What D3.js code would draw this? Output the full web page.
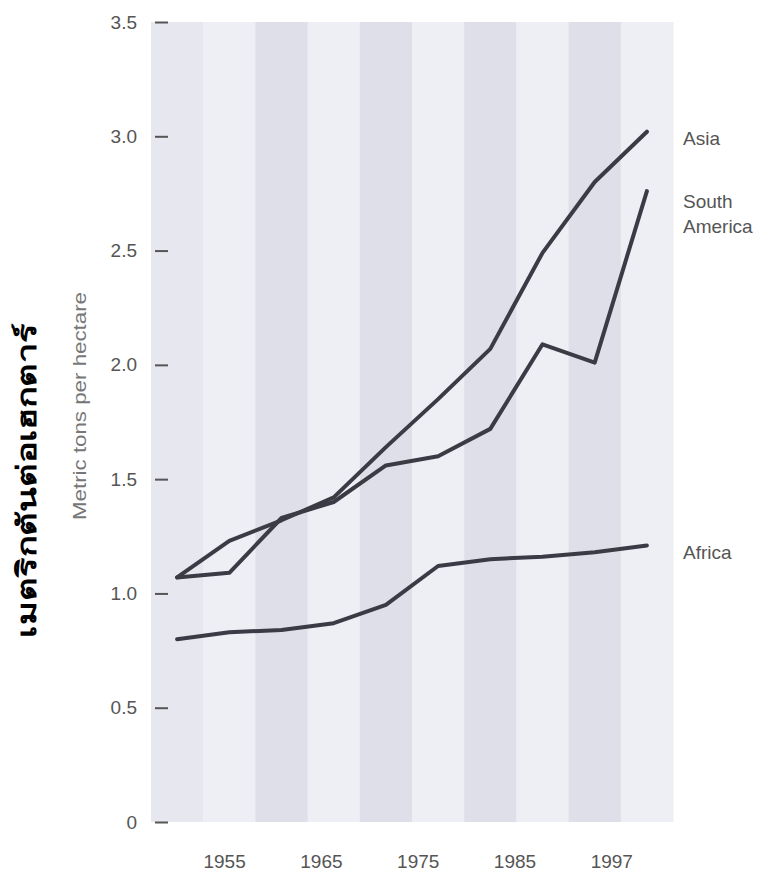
<!DOCTYPE html>
<html>
<head>
<meta charset="utf-8">
<script src="https://d3js.org/d3.v7.min.js"></script>
<style>
  body { margin: 0; background: #fff; }
  text { font-family: "Liberation Sans", Arial, sans-serif; }
</style>
</head>
<body>
<div class="chart"></div>
<script>
var width = 772;
var height = 872;

// datos
var years = [1950, 1955, 1960, 1965, 1970, 1975, 1980, 1985, 1990, 1997];
var asia = [1.07, 1.23, 1.32, 1.42, 1.64, 1.85, 2.07, 2.49, 2.80, 3.02];
var southAmerica = [1.07, 1.09, 1.33, 1.40, 1.56, 1.60, 1.72, 2.09, 2.01, 2.76];
var africa = [0.80, 0.83, 0.84, 0.87, 0.95, 1.12, 1.15, 1.16, 1.18, 1.21];
var seriesNames = ["Asia", "South America", "Africa"];
var yTicks = [0, 0.5, 1.0, 1.5, 2.0, 2.5, 3.0, 3.5];
var xTickYears = [1955, 1965, 1975, 1985, 1997];

var svg = d3.select(".chart")
  .append("svg")
  .attr("width", width)
  .attr("height", height)
  .style("background", "#FFFFFF");

var x = d3.scaleBand().domain(years).range([151, 673]).padding(0);
var y = d3.scaleLinear().domain([0, 3.5]).range([822, 22]);
// las etiquetas del eje van en una rejilla un poco más estrecha
var xLab = x.copy().range([152, 636]);

// franjas verticales
svg.selectAll("rect.band")
  .data(years)
  .enter()
  .append("rect")
  .attr("class", "band")
  .attr("x", function(d) { return x(d); })
  .attr("y", y(3.5))
  .attr("width", x.bandwidth() + 0.5)
  .attr("height", y(0) - y(3.5))
  .attr("fill", function(d, i) {
    if (i == 0) return "#e7e7ef";
    return i % 2 == 0 ? "#dfdfe9" : "#eeeef5";
  });

// eje y
var yAxis = svg.append("g")
  .attr("transform", "translate(168,0)")
  .call(d3.axisLeft(y).tickValues(yTicks)
    .tickFormat(function(d) { return d == 0 ? "0" : d3.format(".1f")(d); })
    .tickSizeInner(13).tickSizeOuter(0).tickPadding(18));
yAxis.select(".domain").remove();
yAxis.selectAll("line").attr("stroke", "#555").attr("stroke-width", 2);
yAxis.selectAll("text")
  .attr("fill", "#555")
  .style("font-size", "19px")
  .style("font-family", "'Liberation Sans', Arial, sans-serif");

// eje x
var xAxis = svg.append("g")
  .attr("transform", "translate(0,849)")
  .call(d3.axisBottom(xLab).tickValues(xTickYears).tickSize(0).tickPadding(6));
xAxis.select(".domain").remove();
xAxis.selectAll("text")
  .attr("fill", "#555")
  .style("font-size", "19px")
  .style("font-family", "'Liberation Sans', Arial, sans-serif");

// líneas
var line = d3.line()
  .x(function(d, i) { return x(years[i]) + x.bandwidth() / 2; })
  .y(function(d) { return y(d); });

var allSeries = [asia, southAmerica, africa];
svg.selectAll("path.serie")
  .data(allSeries)
  .enter()
  .append("path")
  .attr("class", "serie")
  .attr("d", line)
  .attr("fill", "none")
  .attr("stroke", "#3b3b46")
  .attr("stroke-width", 4)
  .attr("stroke-linejoin", "round")
  .attr("stroke-linecap", "round");

// nombres de las series
var labelX = 683;
svg.append("text").attr("x", labelX).attr("y", y(asia[9]) + 13)
  .text(seriesNames[0]).attr("fill", "#555").style("font-size", "19px");
svg.append("text").attr("x", labelX).attr("y", y(southAmerica[9]) + 17)
  .text("South").attr("fill", "#555").style("font-size", "19px");
svg.append("text").attr("x", labelX).attr("y", y(southAmerica[9]) + 42)
  .text("America").attr("fill", "#555").style("font-size", "19px");
svg.append("text").attr("x", labelX).attr("y", y(africa[9]) + 14)
  .text(seriesNames[2]).attr("fill", "#555").style("font-size", "19px");

// títulos del eje y
svg.append("text")
  .attr("transform", "translate(86,406) rotate(-90)")
  .attr("text-anchor", "middle")
  .attr("fill", "#777")
  .style("font-size", "19px")
  .attr("textLength", 228)
  .attr("lengthAdjust", "spacingAndGlyphs")
  .text("Metric tons per hectare");

svg.append("text")
  .attr("transform", "translate(36,480) rotate(-90)")
  .attr("text-anchor", "middle")
  .attr("fill", "#000")
  .attr("font-weight", "bold")
  .style("font-size", "27px")
  .attr("textLength", 315)
  .attr("lengthAdjust", "spacingAndGlyphs")
  .text("เมตริกตันต่อเฮกตาร์");
</script>
</body>
</html>
